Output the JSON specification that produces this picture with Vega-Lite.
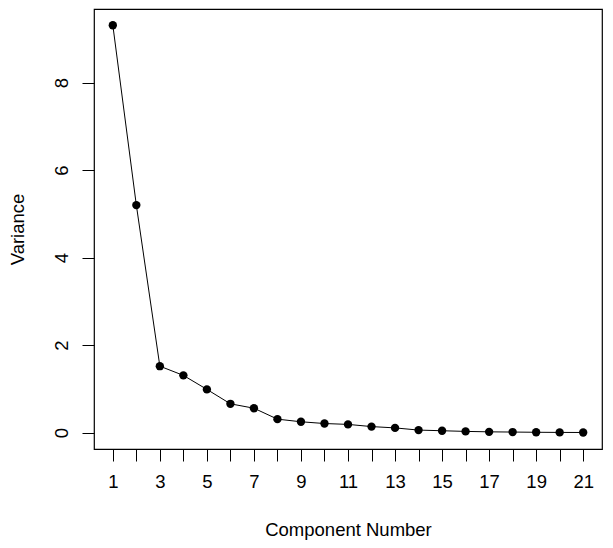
{
  "$schema": "https://vega.github.io/schema/vega-lite/v6.json",
  "width": 508,
  "height": 440,
  "autosize": "none",
  "padding": {"left": 94, "top": 9, "right": 11, "bottom": 99},
  "background": "white",
  "config": {
    "view": {"stroke": "black", "strokeWidth": 1.2},
    "font": "Liberation Sans",
    "axis": {
      "domain": false,
      "grid": false,
      "tickColor": "black",
      "tickSize": 12,
      "tickWidth": 1,
      "labelColor": "black",
      "labelFont": "Liberation Sans",
      "labelFontSize": 18.5,
      "titleColor": "black",
      "titleFont": "Liberation Sans",
      "titleFontSize": 18.5,
      "titleFontWeight": "normal"
    }
  },
  "data": {
    "values": [
      {"component": 1, "variance": 9.31},
      {"component": 2, "variance": 5.2},
      {"component": 3, "variance": 1.52},
      {"component": 4, "variance": 1.31},
      {"component": 5, "variance": 0.99},
      {"component": 6, "variance": 0.66},
      {"component": 7, "variance": 0.56},
      {"component": 8, "variance": 0.31},
      {"component": 9, "variance": 0.25},
      {"component": 10, "variance": 0.21},
      {"component": 11, "variance": 0.19},
      {"component": 12, "variance": 0.14},
      {"component": 13, "variance": 0.11},
      {"component": 14, "variance": 0.06},
      {"component": 15, "variance": 0.045},
      {"component": 16, "variance": 0.03},
      {"component": 17, "variance": 0.02},
      {"component": 18, "variance": 0.015},
      {"component": 19, "variance": 0.01},
      {"component": 20, "variance": 0.007},
      {"component": 21, "variance": 0.005}
    ]
  },
  "encoding": {
    "x": {
      "field": "component",
      "type": "quantitative",
      "scale": {"domain": [0.2, 21.8], "nice": false, "zero": false},
      "axis": {
        "values": [1,2,3,4,5,6,7,8,9,10,11,12,13,14,15,16,17,18,19,20,21],
        "labelExpr": "datum.value % 2 == 1 ? datum.label : ''",
        "labelPadding": 11,
        "labelFlush": false,
        "labelOverlap": false,
        "title": "Component Number",
        "titleBaseline": "middle",
        "titleY": 80
      }
    },
    "y": {
      "field": "variance",
      "type": "quantitative",
      "scale": {"domain": [-0.372, 9.68], "nice": false, "zero": false},
      "axis": {
        "values": [0, 2, 4, 6, 8],
        "labelAngle": 270,
        "labelAlign": "center",
        "labelBaseline": "alphabetic",
        "labelPadding": 15,
        "labelFlush": false,
        "title": "Variance",
        "titleAngle": 270,
        "titleBaseline": "middle",
        "titleX": -77
      }
    }
  },
  "layer": [
    {"mark": {"type": "line", "color": "black", "strokeWidth": 1}},
    {"mark": {"type": "circle", "color": "black", "opacity": 1, "size": 70}}
  ]
}
